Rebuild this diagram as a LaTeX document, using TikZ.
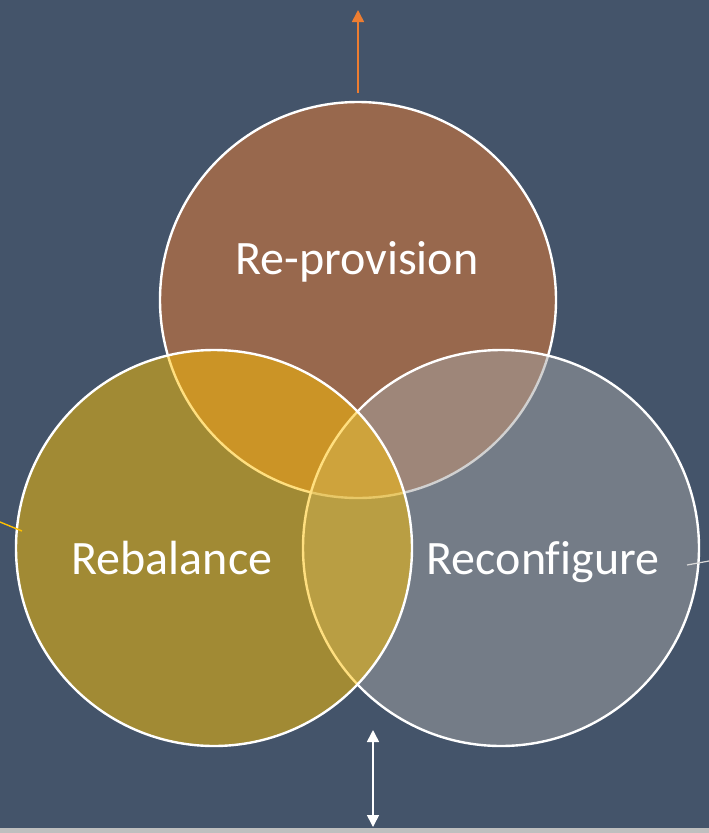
\documentclass[tikz,border=0pt]{standalone}
\usepackage{fontspec}
\setmainfont{Carlito}[Ligatures=CommonOff]
\usetikzlibrary{arrows.meta}

\definecolor{slate}{HTML}{44546A}
\definecolor{strip}{HTML}{BFBFBF}
\definecolor{accorange}{HTML}{ED7D31}
\definecolor{accgold}{HTML}{FFC000}
\definecolor{accgray}{HTML}{A5A5A5}
\definecolor{paleline}{HTML}{D9D9D9}

\tikzset{
  ring/.style={circle, draw=white, line width=2.4pt, fill opacity=0.5,
    inner sep=0pt, minimum size=396pt},
  word/.style={text=white, font=\fontsize{48}{54}\selectfont, anchor=base},
  tipped/.style={-{Triangle[width=12pt,length=12pt]}},
  bothtipped/.style={{Triangle[width=12pt,length=12pt]}-{Triangle[width=12pt,length=12pt]}}
}

\begin{document}
\begin{tikzpicture}[x=1pt,y=-1pt]
  \useasboundingbox (0,0) rectangle (709,833);
  \fill[slate] (0,0) rectangle (709,833);
  \fill[strip] (0,828) rectangle (709,833);

  % the three circles
  \node[ring, fill=accorange] (reprov) at (358,300) {};
  \node[ring, fill=accgray] (reconf) at (501,548) {};
  \node[ring, fill=accgold] (rebal) at (214,548) {};

  \node[word] (reprovtext) at (357,274) {Re-provision};
  \node[word] (rebaltext) at (172,574) {Rebalance};
  \node[word] (reconftext) at (543,574) {Reconfigure};

  % connectors
  \coordinate (upfoot) at (358,93);
  \coordinate (uptip) at (358,10);
  \draw[tipped, accorange, line width=1.6pt] (upfoot) -- (uptip);

  \coordinate (leftout) at (0,522);
  \coordinate (leftin) at (22,531);
  \draw[accgold, line width=1.4pt] (leftout) -- (leftin);

  \coordinate (rightin) at (687,565);
  \coordinate (rightout) at (709,561);
  \draw[paleline, line width=1.2pt] (rightin) -- (rightout);

  \coordinate (lowtop) at (373,730);
  \coordinate (lowbottom) at (373,827);
  \draw[bothtipped, white, line width=1.6pt] (lowtop) -- (lowbottom);
\end{tikzpicture}
\end{document}
